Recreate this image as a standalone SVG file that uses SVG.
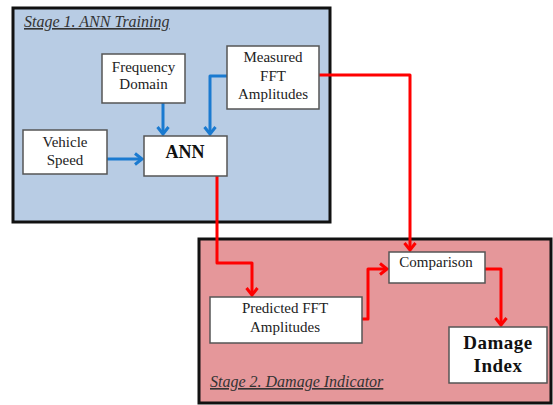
<svg xmlns="http://www.w3.org/2000/svg" width="553" height="405" viewBox="0 0 553 405">
<style>
.stage{stroke:#111;stroke-width:3}
.box{fill:#fff;stroke:#555;stroke-width:1.5}
.t{font-family:"Liberation Serif","Times New Roman",serif;font-size:15px;fill:#222;text-anchor:middle}
.b{font-weight:bold;fill:#111}
.title{font-family:"Liberation Serif","Times New Roman",serif;font-size:16px;font-style:italic;fill:#333;text-decoration:underline}
.blue{fill:none;stroke:#1a7ad0;stroke-width:3;stroke-linejoin:round}
.red{fill:none;stroke:#ff0000;stroke-width:3;stroke-linejoin:round}
</style>
<defs>
<marker id="ab" markerWidth="14" markerHeight="16" viewBox="-10 -8 14 16" refX="0" refY="0" orient="auto" markerUnits="userSpaceOnUse" overflow="visible">
<polyline points="-7,-5.5 0,0 -7,5.5" fill="none" stroke="#1a7ad0" stroke-width="3"/>
</marker>
<marker id="ar" markerWidth="14" markerHeight="16" viewBox="-10 -8 14 16" refX="0" refY="0" orient="auto" markerUnits="userSpaceOnUse" overflow="visible">
<polyline points="-7,-5.5 0,0 -7,5.5" fill="none" stroke="#ff0000" stroke-width="3"/>
</marker>
</defs>
<rect width="553" height="405" fill="#fff"/>
<g id="stage1">
<rect class="stage" x="13" y="8" width="317" height="214" fill="#b8cce4"/>
<text class="title" x="24" y="27">Stage 1. ANN Training</text>
</g>
<g id="stage2">
<rect class="stage" x="199" y="239" width="352" height="164" fill="#e5979a"/>
<text class="title" x="210" y="387">Stage 2. Damage Indicator</text>
</g>
<g id="connectors">
<path class="blue" d="M163 103 V134" marker-end="url(#ab)"/>
<path class="blue" d="M227 76 H210 V134" marker-end="url(#ab)"/>
<path class="blue" d="M107 159 H142" marker-end="url(#ab)"/>
<path class="red" d="M217 176 V263 H252 V295" marker-end="url(#ar)"/>
<path class="red" d="M319 75 H410 V250" marker-end="url(#ar)"/>
<path class="red" d="M362 319 H368 V269 H387" marker-end="url(#ar)"/>
<path class="red" d="M485 269 H501 V325" marker-end="url(#ar)"/>
</g>
<g id="frequency">
<rect class="box" x="102" y="54" width="83" height="49"/>
<text class="t" x="143.5" y="72">Frequency</text>
<text class="t" x="143.5" y="89">Domain</text>
</g>
<g id="measured">
<rect class="box" x="227" y="46" width="92" height="63"/>
<text class="t" x="273" y="62">Measured</text>
<text class="t" x="273" y="81">FFT</text>
<text class="t" x="273" y="99">Amplitudes</text>
</g>
<g id="vehicle">
<rect class="box" x="23" y="130" width="84" height="44"/>
<text class="t" x="65" y="147">Vehicle</text>
<text class="t" x="65" y="165">Speed</text>
</g>
<g id="ann">
<rect class="box" x="144" y="136" width="83" height="40"/>
<text class="t b" x="185" y="158" style="font-size:18px">ANN</text>
</g>
<g id="predicted">
<rect class="box" x="210" y="297" width="152" height="46"/>
<text class="t" x="285" y="313">Predicted FFT</text>
<text class="t" x="285" y="332">Amplitudes</text>
</g>
<g id="comparison">
<rect class="box" x="389" y="252" width="96" height="31"/>
<text class="t" x="436" y="267">Comparison</text>
</g>
<g id="damage">
<rect class="box" x="449" y="327" width="98" height="56"/>
<text class="t b" x="498" y="349" style="font-size:19px;letter-spacing:0.5px">Damage</text>
<text class="t b" x="498" y="372" style="font-size:19px;letter-spacing:0.5px">Index</text>
</g>
</svg>
